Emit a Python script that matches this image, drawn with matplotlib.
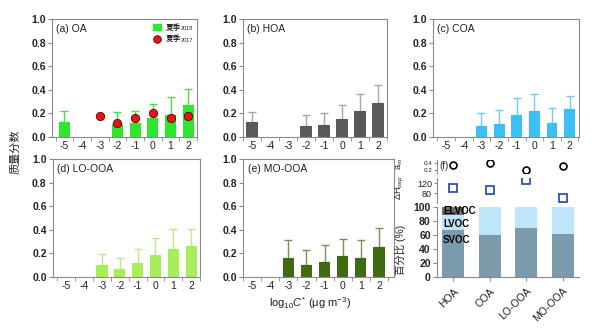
import numpy as np
import matplotlib
matplotlib.use('Agg')
import matplotlib.pyplot as plt

plt.rcParams['font.family'] = ['Liberation Sans', 'Noto Sans CJK SC', 'DejaVu Sans']
plt.rcParams['mathtext.fontset'] = 'custom'
plt.rcParams['mathtext.rm'] = 'Liberation Sans'
plt.rcParams['mathtext.it'] = 'Liberation Sans:italic'

nan = np.nan
bins = ['-5', '-4', '-3', '-2', '-1', '0', '1', '2']

# 挥发性分布 (质量分数) 与误差
oa_2018 = [0.13, nan, nan, 0.11, 0.12, 0.16, 0.19, 0.27]
oa_2018_err = [0.09, nan, nan, 0.10, 0.10, 0.12, 0.15, 0.14]
oa_2017 = [nan, nan, 0.18, 0.12, 0.16, 0.20, 0.16, 0.18]

hoa = [0.13, nan, nan, 0.09, 0.10, 0.15, 0.22, 0.29]
hoa_err = [0.08, nan, nan, 0.095, 0.10, 0.12, 0.145, 0.15]

coa = [nan, nan, 0.09, 0.11, 0.19, 0.22, 0.12, 0.24]
coa_err = [nan, nan, 0.11, 0.12, 0.14, 0.145, 0.13, 0.11]

lo_ooa = [nan, nan, 0.10, 0.07, 0.12, 0.19, 0.24, 0.26]
lo_ooa_err = [nan, nan, 0.095, 0.09, 0.12, 0.14, 0.165, 0.15]

mo_ooa = [nan, nan, 0.16, 0.10, 0.13, 0.18, 0.16, 0.25]
mo_ooa_err = [nan, nan, 0.15, 0.125, 0.14, 0.145, 0.15, 0.165]

# (f) 各因子的 SVOC/LVOC/ELVOC 百分比, a_m, ΔHvap
factors = ['HOA', 'COA', 'LO-OOA', 'MO-OOA']
svoc = [67, 60, 70, 61]
lvoc = [21, 40, 30, 39]
elvoc = [12, 0, 0, 0]
a_m = [0.34, 0.40, 0.18, 0.31]
dh_vap = [100, 93, 133, 60]

spine_c = '#8a8a8a'
text_c = '#222222'

fig = plt.figure(figsize=(6, 3.28), dpi=100)


def panel(rect, vals, errs, color, ecolor, title, xlim):
    ax = fig.add_axes(rect)
    x = np.arange(len(bins))
    v = np.array(vals, dtype=float)
    e = np.array(errs, dtype=float)
    ax.bar(x, v, width=0.62, color=color, zorder=2)
    ax.errorbar(x, v, yerr=[np.zeros_like(e), e], fmt='none', ecolor=ecolor,
                elinewidth=1, capsize=3.2, capthick=1, zorder=1)
    ax.set_xlim(*xlim)
    ax.set_ylim(0, 1)
    ax.set_yticks(np.arange(0, 1.01, 0.2))
    ax.set_yticklabels(['%.1f' % t for t in np.arange(0, 1.01, 0.2)],
                       fontsize=7.5, fontweight='bold', color=text_c)
    ax.set_xticks(x)
    ax.set_xticklabels(bins, fontsize=7.5, color=text_c)
    ax.set_xticks(np.arange(-0.5, 7.6, 1), minor=True)
    ax.tick_params(axis='x', which='major', length=0, pad=3)
    ax.tick_params(axis='x', which='minor', length=3, direction='out', color=spine_c)
    ax.tick_params(axis='y', length=3, direction='out', color=spine_c, pad=1.5)
    for s in ax.spines.values():
        s.set_color(spine_c)
        s.set_linewidth(0.8)
    ax.text(0.03, 0.96, title, transform=ax.transAxes, fontsize=7.5,
            va='top', ha='left', color=text_c)
    return ax


ax_a = panel([0.0867, 0.5823, 0.2417, 0.3598], oa_2018, oa_2018_err,
             '#2ee62e', '#3ee63e', '(a) OA', (-0.7, 7.35))
ax_a.plot(np.arange(len(bins)), oa_2017, 'o', color='#e8141a', mec='#5a0000',
          mew=0.6, ms=6, zorder=3, linestyle='none')
h1 = plt.Rectangle((0, 0), 1, 1, color='#2ee62e')
h2 = plt.Line2D([], [], marker='o', color='#e8141a', mec='#5a0000', mew=0.6,
                ms=5.5, linestyle='none')
leg = ax_a.legend([h1, h2], ['夏季', '夏季'], loc='upper left',
                  bbox_to_anchor=(0.66, 1.0), fontsize=5.5, frameon=False,
                  handlelength=1.0, handleheight=0.8, borderaxespad=0.3,
                  labelspacing=0.5, handletextpad=0.6)
# 图例里的年份下标, 接在“夏季”后面
fig.canvas.draw()
rend = fig.canvas.get_renderer()
inv = ax_a.transAxes.inverted()
for t, yr in zip(leg.get_texts(), ['2018', '2017']):
    bb = t.get_window_extent(rend)
    x0, y0 = inv.transform((bb.x1 + 0.5, bb.y0 + 0.5))
    ax_a.text(x0, y0, yr, transform=ax_a.transAxes, fontsize=4,
              va='bottom', ha='left', color=text_c)

panel([0.405, 0.5823, 0.24, 0.3598], hoa, hoa_err,
      '#595959', '#a6a6a6', '(b) HOA', (-0.5, 7.45))
panel([0.7217, 0.5823, 0.2433, 0.3598], coa, coa_err,
      '#3cbff5', '#6fcbf0', '(c) COA', (-0.74, 7.53))
panel([0.0883, 0.1555, 0.245, 0.3598], lo_ooa, lo_ooa_err,
      '#a8ee5a', '#bde98a', '(d) LO-OOA', (-0.75, 7.47))
panel([0.405, 0.1555, 0.2517, 0.3598], mo_ooa, mo_ooa_err,
      '#3d6b12', '#7c8f55', '(e) MO-OOA', (-0.5, 7.83))

fig.text(15 / 600, 1 - 152 / 328, '质量分数', rotation=90, fontsize=8,
         ha='center', va='center', color=text_c)
fig.text(310 / 600, 1 - 303 / 328, r'log$_{10}$$\mathit{C}^{*}$ (μg m$^{-3}$)',
         fontsize=8, ha='center', va='center', color=text_c)

# (f) 堆叠柱 + a_m + ΔHvap
fx = np.arange(len(factors))
fxlim = (-0.45, 3.45)

ax_f = fig.add_axes([0.7283, 0.1555, 0.2367, 0.2134])
sv = np.array(svoc)
lv = np.array(lvoc)
el = np.array(elvoc)
ax_f.bar(fx, sv, width=0.6, color='#7b9aab', zorder=2)
ax_f.bar(fx, lv, width=0.6, bottom=sv, color='#bde6fa', zorder=2)
ax_f.bar(fx, el, width=0.6, bottom=sv + lv, color='#6b6b6b', zorder=2)
ax_f.set_xlim(*fxlim)
ax_f.set_ylim(0, 100)
ax_f.set_yticks(np.arange(0, 101, 20))
ax_f.set_yticklabels([str(t) for t in range(0, 101, 20)], fontsize=7.5,
                     fontweight='bold', color=text_c)
ax_f.set_xticks(fx)
ax_f.set_xticklabels(factors, rotation=45, ha='right', rotation_mode='anchor',
                     fontsize=7.5, color=text_c)
ax_f.tick_params(axis='x', length=3, color=spine_c)
ax_f.tick_params(axis='y', length=3, color=spine_c, pad=1.5)
for s in ['top', 'right']:
    ax_f.spines[s].set_visible(False)
for s in ['left', 'bottom']:
    ax_f.spines[s].set_color(spine_c)
    ax_f.spines[s].set_linewidth(0.8)
ax_f.text(-0.28, 94, 'ELVOC', fontsize=7, fontweight='bold', va='center', zorder=3)
ax_f.text(-0.28, 76, 'LVOC', fontsize=7, fontweight='bold', va='center', zorder=3)
ax_f.text(-0.28, 53, 'SVOC', fontsize=7, fontweight='bold', va='center', zorder=3)

ax_h = fig.add_axes([0.7283, 0.3811, 0.2367, 0.0762])
ax_h.plot(fx, dh_vap, 's', mfc='none', mec='#1f3fbf', mew=1.2, ms=5.5,
          linestyle='none')
ax_h.set_xlim(*fxlim)
ax_h.set_ylim(40, 140)
ax_h.set_yticks([80, 120])
ax_h.set_yticklabels(['80', '120'], fontsize=6.5, color=text_c)

ax_m = fig.add_axes([0.7283, 0.4726, 0.2367, 0.0396])
ax_m.plot(fx, a_m, 'o', mfc='none', mec='black', mew=1.2, ms=5,
          linestyle='none')
ax_m.set_xlim(*fxlim)
ax_m.set_ylim(0.1, 0.5)
ax_m.set_yticks([0.2, 0.4])
ax_m.set_yticklabels(['0.2', '0.4'], fontsize=4.5, color=text_c)
ax_m.text(0.02, 0.5, '(f)', transform=ax_m.transAxes, fontsize=7,
          va='center', ha='left', color=text_c)

for ax in (ax_h, ax_m):
    ax.set_xticks([])
    for s in ['top', 'right', 'bottom']:
        ax.spines[s].set_visible(False)
    ax.spines['left'].set_color(spine_c)
    ax.spines['left'].set_linewidth(0.8)
    ax.tick_params(axis='y', length=2.5, color=spine_c, pad=1)
    ax.patch.set_alpha(0)

fig.text(400 / 600, 1 - 164 / 328, r'$\mathrm{a}_{m}$', rotation=90, fontsize=6.5,
         ha='center', va='center', color=text_c)
fig.text(400 / 600, 1 - 188 / 328, r'$\Delta\mathrm{H}_{vap}$', rotation=90,
         fontsize=6.5, ha='center', va='center', color=text_c)
fig.text(400 / 600, 1 - 250 / 328, '百分比 (%)', rotation=90, fontsize=7.5,
         ha='center', va='center', color=text_c)

fig.savefig('out.png', dpi=100)
